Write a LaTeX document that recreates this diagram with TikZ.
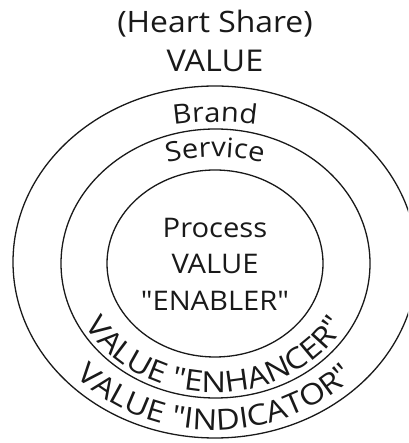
\documentclass[tikz,border=0pt]{standalone}
\usepackage{fontspec}
\setmainfont{Open Sans}[Ligatures=TeXOff, FakeStretch=1.08]
\newfontfamily\widefont{Open Sans}[Ligatures=TeXOff, FakeStretch=1.13]
\usetikzlibrary{decorations.text}
\newcommand{\ringfont}{\fontsize{27}{30}\selectfont}
\newcommand{\lowarcfont}{\widefont\fontsize{29}{30}\selectfont}
\begin{document}
\begin{tikzpicture}[x=1pt,y=1pt,
  ring/.style={draw=black!90, line width=1.3pt},
  caption/.style={font=\ringfont, text=black!90, inner sep=0pt, anchor=base},
  arctext/.style={decorate, decoration={text along path, text align=center,
      text color=black!90, text={|\ringfont|#1}}},
  lowarctext/.style={decorate, decoration={text along path, text align=center,
      text color=black!90, text={|\lowarcfont|#1}}}]
\useasboundingbox (0,0) rectangle (408,443);
\begin{scope}
  \clip (0,0) rectangle (408,443);
  % three nested rings
  \draw[ring] (215,181) ellipse [x radius=202pt, y radius=176pt];
  \draw[ring] (215.5,179.5) ellipse [x radius=154.5pt, y radius=134.5pt];
  \draw[ring] (215,179.5) ellipse [x radius=108pt, y radius=93.5pt];
\end{scope}

% heading above the rings
\node[caption, font=\fontsize{29.5}{30}\selectfont] (heart) at (215,410) {(Heart Share)};
\node[caption, font=\fontsize{30}{30}\selectfont] (value) at (215,371) {VALUE};

% core of the rings
\node[caption] (process) at (215,205) {Process};
\node[caption] (corevalue) at (215,169) {VALUE};
\node[caption] (enabler) at (215,132) {"ENABLER"};

% labels bent along the upper arcs
\path[arctext={Brand}] (215,180) ++(180:200pt and 141pt)
  arc[start angle=180, end angle=0, x radius=200pt, y radius=141pt];
\path[arctext={Service}] (215,180) ++(180:150pt and 106pt)
  arc[start angle=180, end angle=0, x radius=150pt, y radius=106pt];

% labels bent along the lower arcs
\path[lowarctext={VALUE "ENHANCER"}] (215,179.5) ++(180:148pt and 129pt)
  arc[start angle=180, end angle=360, x radius=148pt, y radius=129pt];
\path[lowarctext={VALUE "INDICATOR"}] (215,180) ++(180:190pt and 167pt)
  arc[start angle=180, end angle=360, x radius=190pt, y radius=167pt];
\end{tikzpicture}
\end{document}
